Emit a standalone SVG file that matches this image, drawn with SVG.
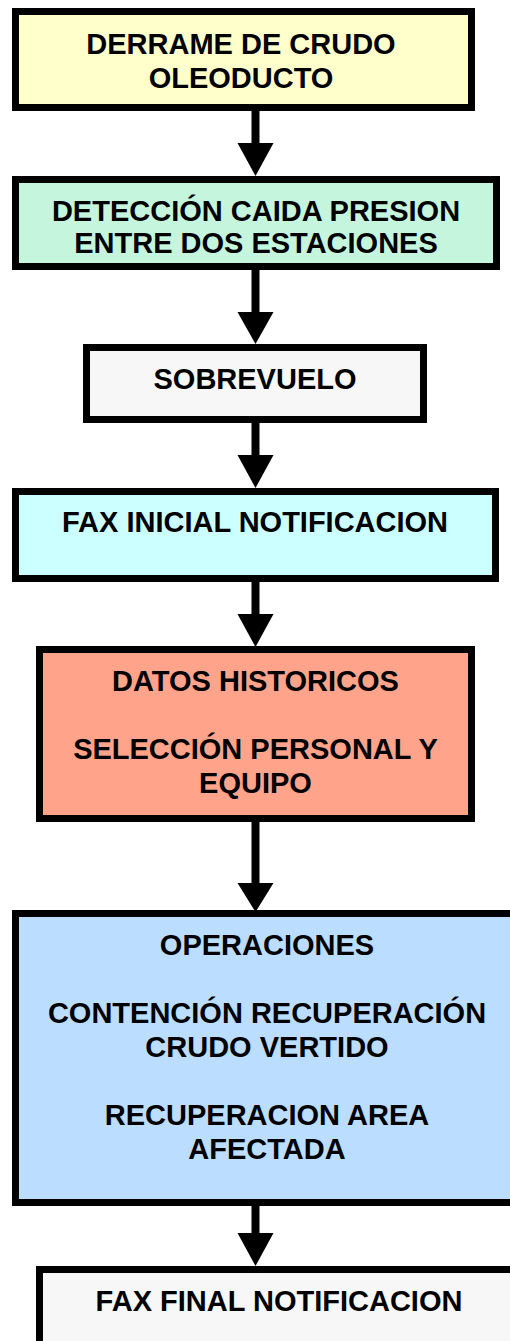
<svg xmlns="http://www.w3.org/2000/svg" width="510" height="1341" viewBox="0 0 510 1341">
<style>
.box{stroke:#000;stroke-width:7}
.t{font-family:"Liberation Sans",Arial,sans-serif;font-weight:bold;font-size:29px;fill:#000;text-anchor:middle}
.shaft{fill:#000}
.head{fill:#000}
</style>
<rect width="510" height="1341" fill="#fff"/>
<g id="connectors">
<rect class="shaft" x="251.5" y="111" width="8" height="33"/><polygon class="head" points="237.5,143 273.5,143 255.5,176"/>
<rect class="shaft" x="251.5" y="270" width="8" height="43"/><polygon class="head" points="237.5,312 273.5,312 255.5,344"/>
<rect class="shaft" x="251.5" y="423" width="8" height="33"/><polygon class="head" points="237.5,455 273.5,455 255.5,488"/>
<rect class="shaft" x="251.5" y="582" width="8" height="33"/><polygon class="head" points="237.5,614 273.5,614 255.5,647"/>
<rect class="shaft" x="251.5" y="822" width="8" height="62"/><polygon class="head" points="237.5,883 273.5,883 255.5,912"/>
<rect class="shaft" x="251.5" y="1206" width="8" height="28"/><polygon class="head" points="237.5,1233 273.5,1233 255.5,1266"/>
</g>
<g id="n1">
<rect class="box" x="15.5" y="11.5" width="456" height="96" fill="#FFFFCC"/>
<text class="t" x="241" y="54">DERRAME DE CRUDO</text>
<text class="t" x="241" y="88">OLEODUCTO</text>
</g>
<g id="n2">
<rect class="box" x="15.5" y="179.5" width="481" height="87" fill="#C6F5DE"/>
<text class="t" x="256" y="221">DETECCIÓN CAIDA PRESION</text>
<text class="t" x="256" y="253">ENTRE DOS ESTACIONES</text>
</g>
<g id="n3">
<rect class="box" x="86.5" y="347.5" width="337" height="72" fill="#F7F7F7"/>
<text class="t" x="255" y="389">SOBREVUELO</text>
</g>
<g id="n4">
<rect class="box" x="15.5" y="491.5" width="480" height="87" fill="#CCFFFF"/>
<text class="t" x="255" y="532">FAX INICIAL NOTIFICACION</text>
</g>
<g id="n5">
<rect class="box" x="39.5" y="649.5" width="432" height="169" fill="#FFA38A"/>
<text class="t" x="255.5" y="691">DATOS HISTORICOS</text>
<text class="t" x="255.5" y="759">SELECCIÓN PERSONAL Y</text>
<text class="t" x="255.5" y="793">EQUIPO</text>
</g>
<g id="n6">
<rect class="box" x="15.5" y="913.5" width="503" height="289" fill="#BBDDFF"/>
<text class="t" x="267" y="955">OPERACIONES</text>
<text class="t" x="267" y="1023">CONTENCIÓN RECUPERACIÓN</text>
<text class="t" x="267" y="1057">CRUDO VERTIDO</text>
<text class="t" x="267" y="1125">RECUPERACION AREA</text>
<text class="t" x="267" y="1159">AFECTADA</text>
</g>
<g id="n7">
<rect class="box" x="39.5" y="1269.5" width="483" height="110" fill="#F7F7F7"/>
<text class="t" x="279" y="1311">FAX FINAL NOTIFICACION</text>
</g>
</svg>
